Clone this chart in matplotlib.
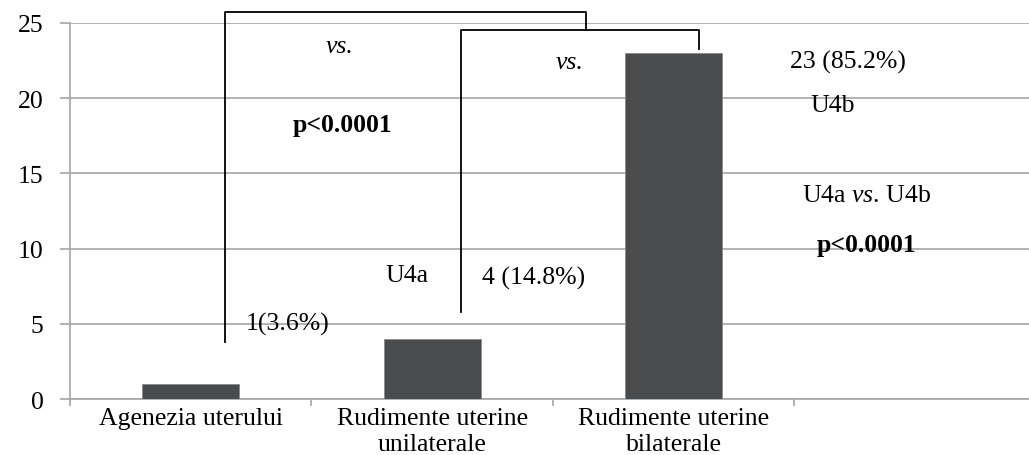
import matplotlib
matplotlib.use("Agg")
import matplotlib.pyplot as plt

categories = ["Agenezia uterului", "Rudimente uterine\nunilaterale", "Rudimente uterine\nbilaterale"]
counts = [1, 4, 23]
yticks = [0, 5, 10, 15, 20, 25]

plt.rcParams['font.family'] = ['Liberation Serif', 'DejaVu Serif']
plt.rcParams['mathtext.fontset'] = 'custom'
plt.rcParams['mathtext.rm'] = 'Liberation Serif'
plt.rcParams['mathtext.it'] = 'Liberation Serif:italic'
FS = 18.5

fig = plt.figure(figsize=(10.29, 4.56), dpi=100)
ax = fig.add_axes([0.068, 0.1228, 0.932, 0.8246])

xs = list(range(len(categories)))
ax.bar(xs, counts, width=0.4, color='#4a4b4d', edgecolor='#8a8a8a', linewidth=0.6, zorder=3)

ax.set_xlim(-0.5, 3.471)
ax.set_ylim(0, 25)
ax.set_yticks(yticks)
ax.yaxis.grid(True, color='#a6a6a6', linewidth=1.2, zorder=0)
ax.set_axisbelow(True)

# category boundaries get the tick marks, labels sit at centres
ax.set_xticks([-0.5, 0.5, 1.5, 2.5])
ax.set_xticklabels([])
ax.set_xticks(xs, minor=True)
ax.set_xticklabels(categories, minor=True, fontsize=FS, linespacing=1.2)
ax.tick_params(axis='x', which='major', length=5, width=1.2, color='#a6a6a6', direction='out')
ax.tick_params(axis='x', which='minor', length=0, pad=6)
ax.tick_params(axis='y', length=7, width=1.2, color='#a6a6a6', pad=12, labelsize=FS)

for s in ['top', 'right']:
    ax.spines[s].set_visible(False)
for s in ['left', 'bottom']:
    ax.spines[s].set_color('#a6a6a6')
    ax.spines[s].set_linewidth(1.2)

# significance brackets
lk = dict(color='black', linewidth=1.3, clip_on=False, zorder=4)
ax.plot([0.142, 0.142, 1.637, 1.637], [3.79, 25.73, 25.73, 24.53], **lk)
ax.plot([1.119, 1.119, 2.105, 2.105], [5.78, 24.53, 24.53, 23.27], **lk)

tk = dict(ha='center', va='center', fontsize=FS, zorder=5)
ax.text(0.618, 23.47, 'vs.', style='italic', **tk)
ax.text(0.630, 18.28, 'p<0.0001', weight='bold', **tk)
ax.text(1.570, 22.40, 'vs.', style='italic', **tk)
ax.text(2.72, 22.47, '23 (85.2%)', **tk)
ax.text(2.66, 19.55, 'U4b', **tk)
ax.text(2.80, 13.56, 'U4a $\\it{vs}$. U4b', **tk)
ax.text(2.80, 10.24, 'p<0.0001', weight='bold', **tk)
ax.text(0.895, 8.24, 'U4a', **tk)
ax.text(1.42, 8.11, '4 (14.8%)', **tk)
ax.text(0.40, 5.05, '1(3.6%)', **tk)

fig.savefig('out.png', dpi=100)
